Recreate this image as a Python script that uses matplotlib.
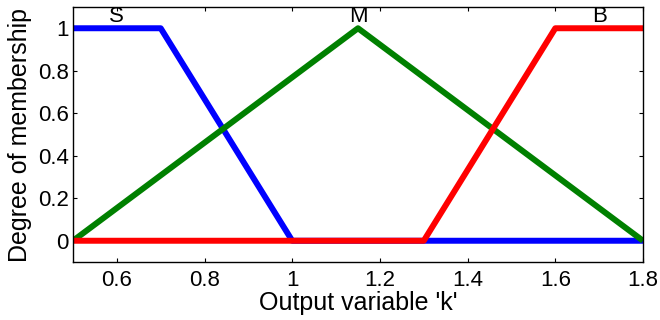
import matplotlib
matplotlib.use("Agg")
import matplotlib.pyplot as plt

plt.rcParams['font.family'] = ['Liberation Sans', 'DejaVu Sans']

x_S = [0.5, 0.7, 1.0, 1.8]
y_S = [1, 1, 0, 0]
x_M = [0.5, 1.15, 1.8]
y_M = [0, 1, 0]
x_B = [0.5, 1.3, 1.6, 1.8]
y_B = [0, 0, 1, 1]
labels = ["S", "M", "B"]
label_x = [0.6, 1.15, 1.7]

xticks = [0.6, 0.8, 1.0, 1.2, 1.4, 1.6, 1.8]
xticklabels = ["0.6", "0.8", "1", "1.2", "1.4", "1.6", "1.8"]
yticks = [0, 0.2, 0.4, 0.6, 0.8, 1.0]
yticklabels = ["0", "0.2", "0.4", "0.6", "0.8", "1"]

fig = plt.figure(figsize=(6.6, 3.2), dpi=100)
ax = fig.add_axes([73/660, 1 - 262/320, (643-73)/660, (262-7)/320])

ax.plot(x_S, y_S, color=(0, 0, 1), lw=4.3, solid_joinstyle='round', solid_capstyle='butt')
ax.plot(x_M, y_M, color=(0, 0.5, 0), lw=4.3, solid_joinstyle='round', solid_capstyle='butt')
ax.plot(x_B, y_B, color=(1, 0, 0), lw=4.3, solid_joinstyle='round', solid_capstyle='butt')

for lab, lx in zip(labels, label_x):
    ax.text(lx, 1.005, lab, ha='center', va='bottom', fontsize=16)

ax.set_xlim(0.5, 1.8)
ax.set_ylim(-0.1, 1.1)
ax.set_xticks(xticks)
ax.set_xticklabels(xticklabels)
ax.set_yticks(yticks)
ax.set_yticklabels(yticklabels)
ax.tick_params(direction='in', top=True, right=True, length=3, width=0.8, labelsize=16)
ax.tick_params(axis='x', pad=6)
ax.tick_params(axis='y', pad=3)
for s in ax.spines.values():
    s.set_linewidth(1.0)
ax.set_xlabel("Output variable 'k'", fontsize=18, labelpad=0)
ax.set_ylabel("Degree of membership", fontsize=18, labelpad=4)

fig.savefig("out.png", dpi=100)
